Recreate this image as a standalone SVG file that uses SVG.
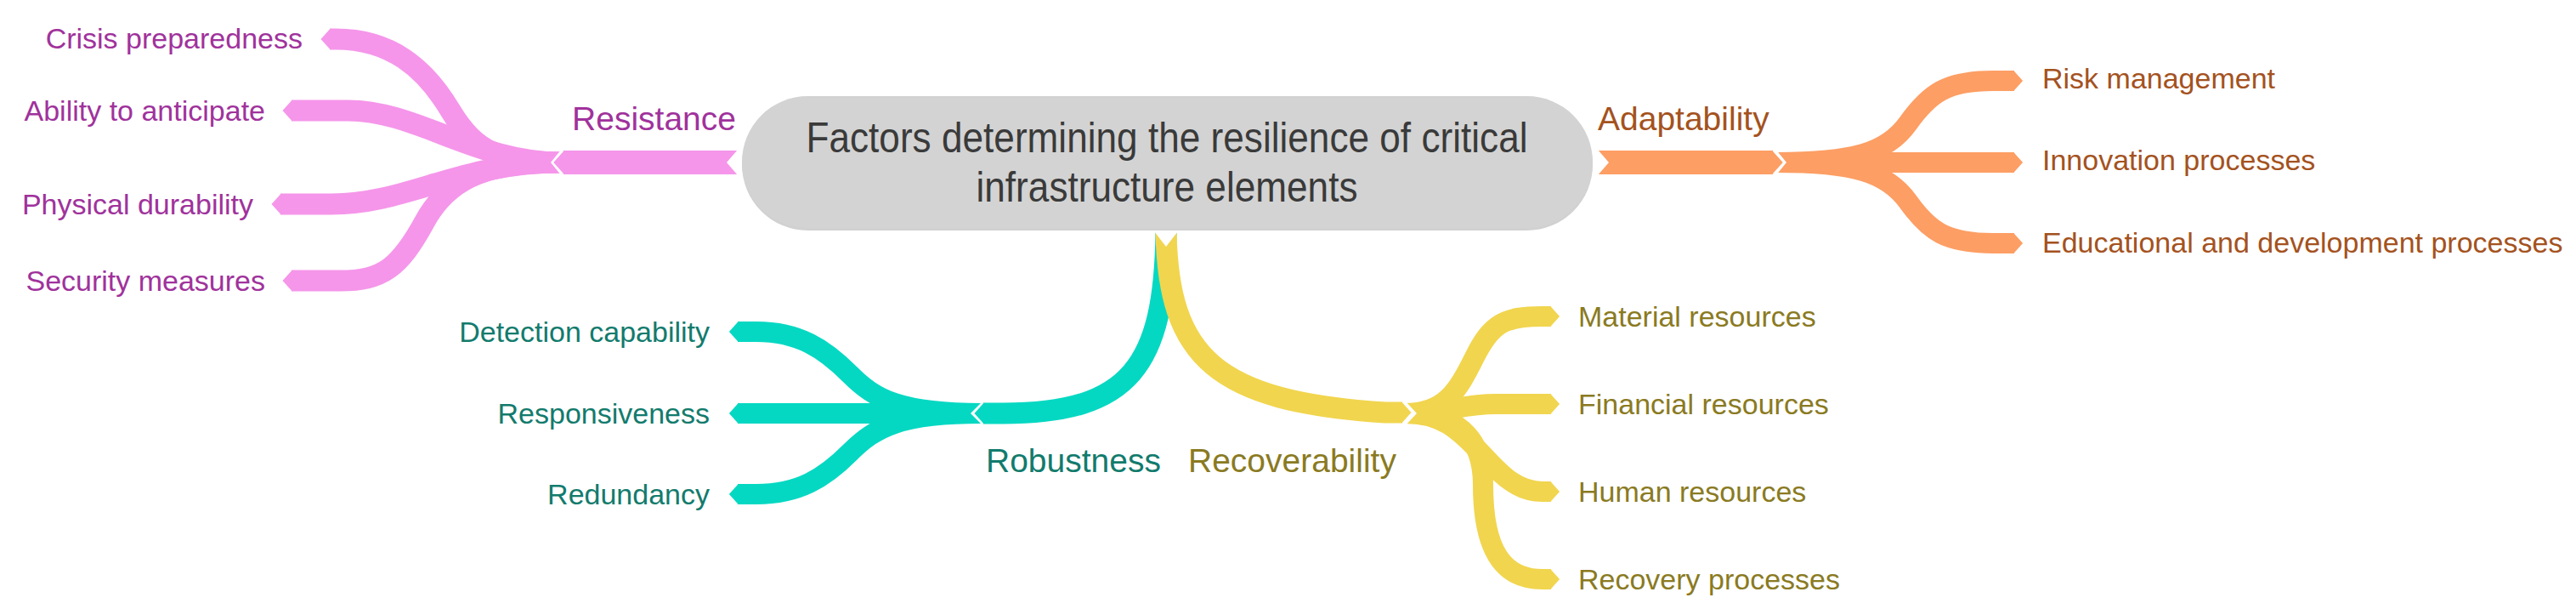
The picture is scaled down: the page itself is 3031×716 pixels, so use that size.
<svg xmlns="http://www.w3.org/2000/svg" width="3031" height="716" viewBox="0 0 3031 716">
<defs>
<style>
text{font-family:"Liberation Sans",Arial,Helvetica,sans-serif;}
.leaf{font-size:34px;}
.main{font-size:39px;}
.ctr{font-size:50px;fill:#3a3a3a;text-anchor:middle;}
.end{text-anchor:end;}
.b{fill:none;stroke-linecap:butt;stroke-linejoin:round;}
.pk{stroke:#f596ea;stroke-width:25px;marker-end:url(#tPk);}
.or{stroke:#fd9e64;stroke-width:24px;marker-end:url(#tOr);}
.tl{stroke:#05d8c2;stroke-width:24px;marker-end:url(#tTl);}
.yl{stroke:#f1d54e;stroke-width:24px;marker-end:url(#tYl);}
.trunk{stroke-width:28px;}
.stem{stroke-width:25px;}
.notch{fill:#ffffff;}
.tpk{fill:#a0329c;}
.tor{fill:#a4521e;}
.ttl{fill:#127b6d;}
.tyl{fill:#8a7a22;}
</style>
<marker id="tPk" viewBox="0 -0.5 0.45 1" refX="0" refY="0" markerWidth="0.45" markerHeight="1" markerUnits="strokeWidth" orient="auto" overflow="visible"><path d="M-0.03,-0.5 L0.42,0 L-0.03,0.5 z" fill="#f596ea"/></marker>
<marker id="tOr" viewBox="0 -0.5 0.45 1" refX="0" refY="0" markerWidth="0.45" markerHeight="1" markerUnits="strokeWidth" orient="auto" overflow="visible"><path d="M-0.03,-0.5 L0.42,0 L-0.03,0.5 z" fill="#fd9e64"/></marker>
<marker id="tTl" viewBox="0 -0.5 0.45 1" refX="0" refY="0" markerWidth="0.45" markerHeight="1" markerUnits="strokeWidth" orient="auto" overflow="visible"><path d="M-0.03,-0.5 L0.42,0 L-0.03,0.5 z" fill="#05d8c2"/></marker>
<marker id="tYl" viewBox="0 -0.5 0.45 1" refX="0" refY="0" markerWidth="0.45" markerHeight="1" markerUnits="strokeWidth" orient="auto" overflow="visible"><path d="M-0.03,-0.5 L0.42,0 L-0.03,0.5 z" fill="#f1d54e"/></marker>
</defs>
<rect width="3031" height="716" fill="#ffffff"/>

<g id="connectors">
  <!-- Resistance (pink) -->
  <path class="b pk" d="M660 191 C590 191 560 180 530 130 S460 46 395 46 L388 46"/>
  <path class="b pk" d="M660 191 C560 191 490 130 410 130 L343 130"/>
  <path class="b pk" d="M660 191 C540 191 480 240 390 240 L330 240"/>
  <path class="b pk" d="M660 191 C580 191 530 205 500 260 S450 330 400 330 L343 330"/>
  <polygon class="notch" points="661,175 648,191 661,207"/>
  <path class="b pk trunk" d="M867 191 L663 191"/>
  <polygon class="notch" points="868,176 855,191 868,206"/>

  <!-- Adaptability (orange) -->
  <path class="b or" d="M2090 191 C2180 191 2220 180 2245 145 S2290 95 2345 95 L2370 95"/>
  <path class="b or" d="M2090 191 L2370 191"/>
  <path class="b or" d="M2090 191 C2180 191 2220 202 2245 237 S2290 286 2345 286 L2370 286"/>
  <polygon class="notch" points="2089,175 2102,191 2089,207"/>
  <path class="b or trunk" d="M1881 191 L2086 191"/>
  <polygon class="notch" points="1880,176 1893,191 1880,206"/>

  <!-- Robustness (teal) -->
  <path class="b tl" d="M1155 486 C1060 486 1030 470 1000 440 S940 390 890 390 L868 390"/>
  <path class="b tl" d="M1155 486 L868 486"/>
  <path class="b tl" d="M1155 486 C1060 486 1030 502 1000 532 S940 581 890 581 L868 581"/>
  <polygon class="notch" points="1156,472 1142,486 1156,500"/>
  <path class="b tl stem" d="M1372 273 C1370 430 1330 486 1180 486 L1157 486"/>

  <!-- Recoverability (yellow) -->
  <path class="b yl" d="M1654 486 C1700 486 1715 460 1735 420 S1770 372 1815 372 L1825 372"/>
  <path class="b yl" d="M1654 486 C1700 486 1720 475 1760 475 L1825 475"/>
  <path class="b yl" d="M1654 486 C1700 486 1720 510 1740 530 S1780 578 1815 578 L1825 578"/>
  <path class="b yl" d="M1654 486 C1710 486 1745 510 1745 570 C1745 650 1770 681 1815 681 L1825 681"/>
  <polygon class="notch" points="1653,471 1667,486 1653,501"/>
  <path class="b yl stem" d="M1372 273 C1375 420 1430 472 1630 485 L1650 485"/>
  <polygon class="notch" points="1358,272 1372,290 1386,272"/>
</g>

<g id="center">
  <rect x="873" y="116" width="1001" height="155" rx="77.5" fill="#bdbdbd" opacity="0.7"/>
  <rect x="873" y="113" width="1001" height="155" rx="77.5" fill="#d3d3d3"/>
  <text class="ctr" x="1373" y="179" textLength="849" lengthAdjust="spacingAndGlyphs">Factors determining the resilience of critical</text>
  <text class="ctr" x="1373" y="237" textLength="449" lengthAdjust="spacingAndGlyphs">infrastructure elements</text>
</g>

<g id="resistance"><text class="main tpk end" x="866" y="153">Resistance</text></g>
<g id="crisis-preparedness"><text class="leaf tpk end" x="356" y="57">Crisis preparedness</text></g>
<g id="ability-to-anticipate"><text class="leaf tpk end" x="312" y="142">Ability to anticipate</text></g>
<g id="physical-durability"><text class="leaf tpk end" x="298" y="252">Physical durability</text></g>
<g id="security-measures"><text class="leaf tpk end" x="312" y="342">Security measures</text></g>

<g id="adaptability"><text class="main tor" x="1880" y="153">Adaptability</text></g>
<g id="risk-management"><text class="leaf tor" x="2403" y="104">Risk management</text></g>
<g id="innovation-processes"><text class="leaf tor" x="2403" y="200">Innovation processes</text></g>
<g id="educational-processes"><text class="leaf tor" x="2403" y="297">Educational and development processes</text></g>

<g id="robustness"><text class="main ttl" x="1160" y="555">Robustness</text></g>
<g id="detection-capability"><text class="leaf ttl end" x="835" y="402">Detection capability</text></g>
<g id="responsiveness"><text class="leaf ttl end" x="835" y="498">Responsiveness</text></g>
<g id="redundancy"><text class="leaf ttl end" x="835" y="593">Redundancy</text></g>

<g id="recoverability"><text class="main tyl" x="1398" y="555">Recoverability</text></g>
<g id="material-resources"><text class="leaf tyl" x="1857" y="384">Material resources</text></g>
<g id="financial-resources"><text class="leaf tyl" x="1857" y="487">Financial resources</text></g>
<g id="human-resources"><text class="leaf tyl" x="1857" y="590">Human resources</text></g>
<g id="recovery-processes"><text class="leaf tyl" x="1857" y="693">Recovery processes</text></g>
</svg>
